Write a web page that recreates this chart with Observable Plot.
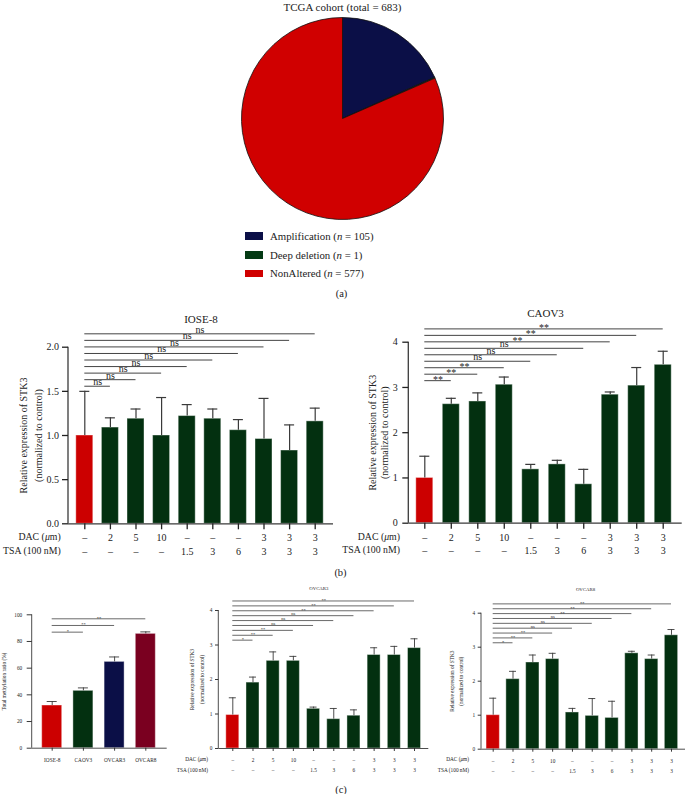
<!DOCTYPE html>
<html><head><meta charset="utf-8">
<script src="https://cdn.jsdelivr.net/npm/d3@7"></script>
<script src="https://cdn.jsdelivr.net/npm/@observablehq/plot@0.6"></script>
<style>
body{margin:0;background:#fff;}
#page{position:relative;width:685px;height:794px;overflow:hidden;font-family:"Liberation Serif","Times New Roman",serif;color:#222;}
#page svg{position:absolute;left:0;top:0;}
.lbl{position:absolute;white-space:nowrap;line-height:1;}
</style></head><body><div id="page"></div>
<script>
// ---------- data ----------
const pieCategories = ["Amplification", "Deep deletion", "NonAltered"];
const pieCounts = [105, 1, 577];
const pieShares = [18.3, 0.15, 81.55];           // slice sizes as drawn in the picture
const pieColors = ["#0b0f47", "#043a14", "#d00000"];

const treatments = ["ctrl","DAC2","DAC5","DAC10","TSA1.5","TSA3","TSA6","DT1","DT2","DT3"];
const dacLabels = ["–","2","5","10","–","–","–","3","3","3"];
const tsaLabels = ["–","–","–","–","1.5","3","6","3","3","3"];

const ioseValues = [1.00,1.09,1.19,1.00,1.22,1.19,1.06,0.96,0.83,1.16];
const ioseErrTop = [1.50,1.20,1.30,1.43,1.35,1.30,1.18,1.42,1.12,1.31];
const ioseSig    = ["ns","ns","ns","ns","ns","ns","ns","ns","ns"];

const caovValues = [1.00,2.63,2.69,3.06,1.19,1.30,0.86,2.84,3.04,3.50];
const caovErrTop = [1.48,2.76,2.88,3.23,1.30,1.39,1.19,2.90,3.44,3.80];
const caovSig    = ["**","**","**","ns","ns","ns","**","**","**"];

const ovcar3Values = [0.97,1.91,2.54,2.54,1.15,0.85,0.95,2.71,2.71,2.91];
const ovcar3ErrTop = [1.47,2.07,2.80,2.67,1.20,1.16,1.12,2.92,2.96,3.18];
const ovcar3Sig    = ["*","**","**","ns","ns","ns","**","**","**"];

const ovcar8Values = [1.00,2.06,2.55,2.65,1.08,0.98,0.92,2.82,2.65,3.35];
const ovcar8ErrTop = [1.50,2.29,2.77,2.82,1.20,1.49,1.41,2.88,2.77,3.52];
const ovcar8Sig    = ["*","**","**","ns","ns","ns","**","**","**"];

const cellLines    = ["IOSE-8","CAOV3","OVCAR3","OVCAR8"];
const methylValues = [32.0, 43.0, 64.7, 85.7];
const methylErrTop = [35.0, 45.2, 68.4, 87.2];
const methylSig    = ["*","**","**"];
const methylColors = ["#cc0000","#033010","#0b0f47","#7a0020"];

const yLabelSTK3 = "Relative expression of STK3\n(normalized to control)";

// ---------- helpers ----------
const FONT = '"Liberation Serif","Times New Roman",serif';
const TXT = "#222", AX = "#3a3a3a", RED = "#cc0000", GREEN = "#033010";
const page = document.getElementById("page");
const treatColors = treatments.map((t, i) => i === 0 ? RED : GREEN);

function yAxisLine(yMax, color, w) {
  return (index, scales, values, dims) => {
    const l = document.createElementNS("http://www.w3.org/2000/svg", "line");
    l.setAttribute("x1", dims.marginLeft); l.setAttribute("x2", dims.marginLeft);
    l.setAttribute("y1", scales.y(0)); l.setAttribute("y2", scales.y(yMax));
    l.setAttribute("stroke", color); l.setAttribute("stroke-width", w);
    return l;
  };
}

function barPanel(c) {
  const n = c.values.length;
  const idx = d3.range(n);
  const rows = idx.map(i => ({i, v: c.values[i], top: c.errTop[i], color: c.colors[i]}));
  const sigRows = c.sig.map((s, k) => ({x1: 0, x2: k + 1, xm: (k + 1) / 2, y: c.sigBase + k * c.sigStep, label: s}));
  const hw = c.barWidth / 2 / c.step, cap = c.capWidth / 2 / c.step;
  const marks = [
    Plot.rectY(rows, {x1: d => d.i - hw, x2: d => d.i + hw, y1: 0, y2: "v", fill: "color", stroke: "#fff", strokeOpacity: 0.4, strokeWidth: 1}),
    Plot.ruleX(rows, {x: "i", y1: "v", y2: "top", stroke: AX, strokeWidth: c.errW}),
    Plot.ruleY(rows, {x1: d => d.i - cap, x2: d => d.i + cap, y: "top", stroke: AX, strokeWidth: c.errW}),
    Plot.ruleY([0], {stroke: AX, strokeWidth: c.axW}),
    yAxisLine(c.yMax, AX, c.axW),
    Plot.axisY({ticks: c.yTicks, tickFormat: c.tickFmt, tickSize: c.yTickSize, tickPadding: c.yTickPad, fontSize: c.tickFont, label: null, strokeWidth: c.axW}),
    ...c.xRows.map(r => Plot.axisX({ticks: idx, tickFormat: i => r.labels[i], tickSize: r.tickSize, tickPadding: r.pad, fontSize: c.tickFont, label: null, strokeWidth: c.axW})),
    Plot.ruleY(sigRows, {x1: "x1", x2: "x2", y: "y", stroke: "#444", strokeWidth: c.sigW}),
    Plot.text(sigRows.filter(d => d.label === "ns"), {x: "xm", y: "y", text: "label", lineAnchor: "bottom", dy: c.nsDy, fontSize: c.sigFont, fill: TXT}),
    Plot.text(sigRows.filter(d => d.label !== "ns"), {x: "xm", y: "y", text: "label", lineAnchor: "bottom", dy: c.starDy, fontSize: c.sigFont, fill: TXT}),
    Plot.text([c.yLabel], {text: d => d, frameAnchor: "left", textAnchor: "middle", rotate: -90, dx: c.yLabelDx, fontSize: c.yLabelFont, lineHeight: c.yLabelLH, lineAnchor: "middle", fill: TXT})
  ];
  if (c.title) marks.push(Plot.text([c.title], {text: d => d, frameAnchor: "top", textAnchor: "middle", dx: c.titleDx || 0, dy: c.titleDy, lineAnchor: "middle", fontSize: c.titleFont, fill: TXT}));
  return Plot.plot({
    width: 685, height: 794,
    marginLeft: c.axisX, marginRight: 685 - c.axisEnd, marginTop: c.yTopPx, marginBottom: 794 - c.yZeroPx,
    style: {background: "transparent", fontFamily: FONT, color: TXT, overflow: "visible"},
    x: {domain: [-0.5, n - 0.5], range: [c.firstCenter - c.step / 2, c.firstCenter + (n - 0.5) * c.step]},
    y: {domain: [0, c.yMax], range: [c.yZeroPx, c.yTopPx]},
    color: {type: "identity"},
    marks
  });
}

function label(html, x, y, size, anchor = "middle") {
  const d = document.createElement("div");
  d.className = "lbl";
  d.innerHTML = html;
  d.style.left = x + "px"; d.style.top = y + "px"; d.style.fontSize = size + "px";
  const tx = anchor === "middle" ? "-50%" : anchor === "end" ? "-100%" : "0";
  d.style.transform = `translate(${tx},-50%)`;
  page.appendChild(d);
  return d;
}

// ---------- (a) pie ----------
const pieRows = pieCategories.map((k, i) => ({k, share: pieShares[i], color: pieColors[i]}));
const pie = Plot.plot({
  width: 685, height: 794,
  marginLeft: 241.5, marginRight: 241.5, marginTop: 17.5, marginBottom: 574.5,
  style: {background: "transparent", overflow: "visible"},
  marks: [
    (index, scales, values, dims) => {
      const R = (dims.width - dims.marginLeft - dims.marginRight) / 2;
      const cx = dims.marginLeft + R;
      const cy = dims.marginTop + (dims.height - dims.marginTop - dims.marginBottom) / 2;
      const arcs = d3.pie().sort(null).value(d => d.share)(pieRows);
      const arc = d3.arc().innerRadius(0).outerRadius(R);
      const g = d3.create("svg:g").attr("transform", `translate(${cx},${cy})`);
      g.selectAll("path").data(arcs).join("path")
        .attr("d", arc).attr("fill", d => d.data.color)
        .attr("stroke", "#111").attr("stroke-width", 0.8).attr("stroke-linejoin", "round");
      return g.node();
    }
  ]
});
page.appendChild(pie);
label("TCGA cohort (total = 683)", 342.5, 6.5, 11);
const legendY = [236, 255, 273.3];
pieCategories.forEach((k, i) => {
  const sw = document.createElement("div");
  sw.style.cssText = `position:absolute;left:245px;top:${legendY[i] - 3.8}px;width:18px;height:7.6px;background:${pieColors[i]};`;
  page.appendChild(sw);
  label(`${k} (<i>n</i> = ${pieCounts[i]})`, 270, legendY[i], 10.8, "start");
});
label("(a)", 341.5, 294, 10.5);

// ---------- (b) ----------
page.appendChild(barPanel({
  values: ioseValues, errTop: ioseErrTop, colors: treatColors, sig: ioseSig,
  axisX: 68, axisEnd: 333, yZeroPx: 523.3, yTopPx: 346.7, yMax: 2,
  yTicks: [0, 0.5, 1, 1.5, 2], tickFmt: d3.format(".1f"),
  firstCenter: 84.3, step: 25.6, barWidth: 17, capWidth: 10,
  sigBase: 1.558, sigStep: 0.0742, sigW: 1, sigFont: 10, nsDy: -1, starDy: 2,
  errW: 1.2, axW: 1.3, tickFont: 10, yTickSize: 6, yTickPad: 3.5,
  xRows: [{labels: dacLabels, tickSize: 6, pad: 4}, {labels: tsaLabels, tickSize: 0, pad: 23.7}],
  yLabel: yLabelSTK3, yLabelDx: -38.8, yLabelFont: 10, yLabelLH: 1.45,
  title: "IOSE-8", titleDy: -27.7, titleFont: 11
}));
label("DAC (<i>μ</i>m)", 60.7, 537.3, 9.8, "end");
label("TSA (100 nM)", 60.7, 551, 9.8, "end");

page.appendChild(barPanel({
  values: caovValues, errTop: caovErrTop, colors: treatColors, sig: caovSig,
  axisX: 408.3, axisEnd: 681.7, yZeroPx: 522.7, yTopPx: 341.7, yMax: 4,
  yTicks: [0, 1, 2, 3, 4], tickFmt: d3.format("d"),
  firstCenter: 424.3, step: 26.49, barWidth: 17, capWidth: 10,
  sigBase: 3.15, sigStep: 0.143, sigW: 1, sigFont: 10, nsDy: -1, starDy: 2,
  errW: 1.2, axW: 1.3, tickFont: 10, yTickSize: 6, yTickPad: 5,
  xRows: [{labels: dacLabels, tickSize: 6, pad: 4.6}, {labels: tsaLabels, tickSize: 0, pad: 23.3}],
  yLabel: yLabelSTK3, yLabelDx: -30.8, yLabelFont: 10, yLabelLH: 1.2,
  title: "CAOV3", titleDy: -28.4, titleFont: 11
}));
label("DAC (<i>μ</i>m)", 400, 537.3, 9.8, "end");
label("TSA (100 nM)", 400, 550, 9.8, "end");
label("(b)", 340.5, 573, 10.5);

// ---------- (c) ----------
page.appendChild(barPanel({
  values: methylValues, errTop: methylErrTop, colors: methylColors, sig: methylSig,
  axisX: 31.7, axisEnd: 166.7, yZeroPx: 747.7, yTopPx: 614.3, yMax: 100,
  yTicks: [0, 20, 40, 60, 80, 100], tickFmt: d3.format("d"),
  firstCenter: 51.7, step: 31.2, barWidth: 20, capWidth: 10,
  sigBase: 87, sigStep: 5, sigW: 0.8, sigFont: 4.5, nsDy: -0.4, starDy: 1,
  errW: 0.9, axW: 0.9, tickFont: 5.3, yTickSize: 5, yTickPad: 5,
  xRows: [{labels: cellLines, tickSize: 3, pad: 7}],
  yLabel: "Total methylation ratio (%)", yLabelDx: -28.2, yLabelFont: 5.3, yLabelLH: 1.2
}));

page.appendChild(barPanel({
  values: ovcar3Values, errTop: ovcar3ErrTop, colors: treatColors, sig: ovcar3Sig,
  axisX: 218.3, axisEnd: 428.3, yZeroPx: 748, yTopPx: 610, yMax: 4,
  yTicks: [0, 1, 2, 3, 4], tickFmt: d3.format("d"),
  firstCenter: 232.3, step: 20.19, barWidth: 13, capWidth: 7,
  sigBase: 3.14, sigStep: 0.142, sigW: 0.8, sigFont: 4.5, nsDy: -0.4, starDy: 1,
  errW: 0.9, axW: 0.9, tickFont: 5.3, yTickSize: 3.3, yTickPad: 3,
  xRows: [{labels: dacLabels, tickSize: 3, pad: 6.6}, {labels: tsaLabels, tickSize: 0, pad: 19.6}],
  yLabel: yLabelSTK3, yLabelDx: -23.3, yLabelFont: 5.3, yLabelLH: 1.9,
  title: "OVCAR3", titleDx: -5, titleDy: -22.3, titleFont: 4.8
}));
label("DAC (<i>μ</i>m)", 208, 760.3, 5.3, "end");
label("TSA (100 nM)", 208, 770.8, 5.3, "end");

page.appendChild(barPanel({
  values: ovcar8Values, errTop: ovcar8ErrTop, colors: treatColors, sig: ovcar8Sig,
  axisX: 481, axisEnd: 685, yZeroPx: 748.7, yTopPx: 612.7, yMax: 4,
  yTicks: [0, 1, 2, 3, 4], tickFmt: d3.format("d"),
  firstCenter: 492.7, step: 19.81, barWidth: 13.3, capWidth: 7,
  sigBase: 3.13, sigStep: 0.143, sigW: 0.8, sigFont: 4.5, nsDy: -0.4, starDy: 1,
  errW: 0.9, axW: 0.9, tickFont: 5.3, yTickSize: 3.3, yTickPad: 3,
  xRows: [{labels: dacLabels, tickSize: 3, pad: 6.6}, {labels: tsaLabels, tickSize: 0, pad: 19.6}],
  yLabel: yLabelSTK3, yLabelDx: -25.5, yLabelFont: 5.3, yLabelLH: 1.7,
  title: "OVCAR8", titleDx: 2, titleDy: -23.4, titleFont: 4.8
}));
label("DAC (<i>μ</i>m)", 469, 760.3, 5.3, "end");
label("TSA (100 nM)", 469, 770.8, 5.3, "end");
label("(c)", 341, 789.5, 10.5);
</script></body></html>
